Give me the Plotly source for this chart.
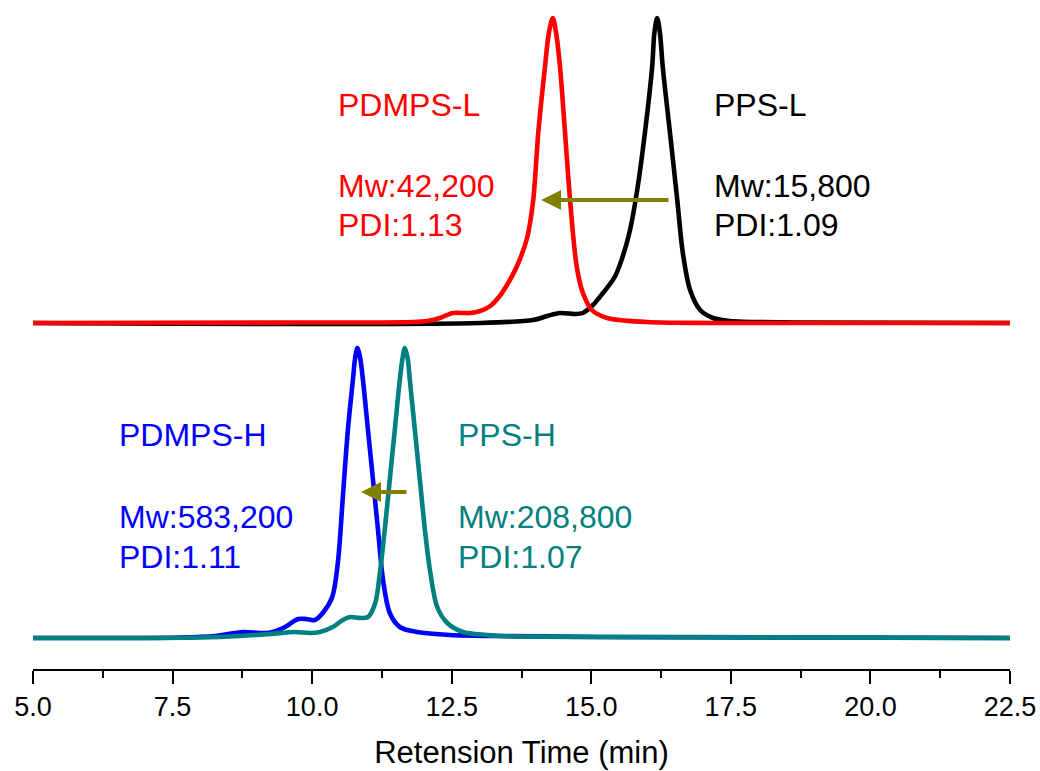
import plotly.graph_objects as go

# ---------------- data (retention time in min, detector signal in a.u.) ----------------
OFFSET_TOP = 315  # vertical offset of the upper (L) pair of chromatograms

pps_l_t = [5.0, 13.01, 13.96, 14.21, 14.44, 14.71, 14.85, 15.03, 15.21, 15.42, 15.56, 15.69,
           15.82, 15.96, 16.09, 16.13, 16.18, 16.23, 16.28, 16.41, 16.54, 16.64, 16.77, 16.95,
           17.18, 17.48, 18.74, 22.5]
pps_l_s = [0, 0, 3, 7, 10, 9, 10, 18, 30, 46, 66, 92,
           132, 190, 256, 290, 305, 290, 256, 190, 123, 70, 33, 13,
           5, 2, 0.5, 0]

pdmps_l_t = [5.0, 10.0, 11.81, 12.06, 12.29, 12.52, 12.68, 12.83, 13.01, 13.19, 13.36, 13.49,
             13.67, 13.85, 13.96, 14.05, 14.17, 14.24, 14.31, 14.37, 14.44, 14.53, 14.62, 14.74,
             14.85, 15.01, 15.28, 16.0, 17.18, 22.5]
pdmps_l_s = [0, 0.5, 1, 2, 5, 10, 10, 10, 12, 17, 27, 38,
             57, 85, 123, 190, 256, 290, 305, 290, 256, 190, 123, 56,
             30, 13, 5, 1, 0, 0]

pdmps_h_t = [5.0, 7.63, 8.26, 8.76, 9.19, 9.48, 9.75, 9.89, 10.05, 10.19, 10.36, 10.46,
             10.55, 10.64, 10.73, 10.77, 10.81, 10.86, 10.91, 11.0, 11.09, 11.18, 11.27, 11.39,
             11.57, 11.88, 12.47, 13.36, 15.16, 22.5]
pdmps_h_s = [0, 0.5, 2, 6, 5, 10, 19, 19, 18, 25, 41, 75,
             141, 208, 258, 280, 290, 280, 258, 208, 158, 108, 58, 25,
             11, 6, 3, 2, 1, 0]

pps_h_t = [5.0, 7.99, 8.71, 9.25, 9.69, 9.96, 10.14, 10.37, 10.55, 10.68, 10.86, 11.0,
           11.13, 11.22, 11.30, 11.39, 11.48, 11.57, 11.62, 11.66, 11.71, 11.75, 11.84, 11.93,
           12.02, 12.11, 12.24, 12.42, 12.70, 13.13, 13.36, 15.16, 22.5]
pps_h_s = [0, 0.5, 2, 4, 6, 5, 6, 11, 18, 21, 20, 21,
           35, 68, 108, 158, 208, 258, 280, 290, 280, 258, 208, 158,
           108, 68, 31, 15, 6, 3, 2, 1, 0]

x_ticks = [5.0, 7.5, 10.0, 12.5, 15.0, 17.5, 20.0, 22.5]
x_tick_labels = ["5.0", "7.5", "10.0", "12.5", "15.0", "17.5", "20.0", "22.5"]

# ---------------- figure ----------------
FONT = "Liberation Sans, Arial, sans-serif"
fig = go.Figure()

def add(t, s, color, name, offset=0):
    fig.add_trace(go.Scatter(
        x=t, y=[v + offset for v in s], mode="lines", name=name,
        line=dict(color=color, width=4.6, shape="spline", smoothing=0.9),
        hoverinfo="skip", showlegend=False))

add(pps_l_t, pps_l_s, "#000000", "PPS-L", OFFSET_TOP)
add(pdmps_l_t, pdmps_l_s, "#FF0000", "PDMPS-L", OFFSET_TOP)
add(pdmps_h_t, pdmps_h_s, "#0000FF", "PDMPS-H")
add(pps_h_t, pps_h_s, "#008080", "PPS-H")

labels = [
    (10.42, 533, "PDMPS-L", "#FF0000"),
    (10.42, 452, "Mw:42,200", "#FF0000"),
    (10.42, 413, "PDI:1.13", "#FF0000"),
    (17.16, 533, "PPS-L", "#000000"),
    (17.16, 452, "Mw:15,800", "#000000"),
    (17.16, 413, "PDI:1.09", "#000000"),
    (6.50, 203, "PDMPS-H", "#0000FF"),
    (6.50, 121, "Mw:583,200", "#0000FF"),
    (6.50, 81, "PDI:1.11", "#0000FF"),
    (12.575, 203, "PPS-H", "#008080"),
    (12.575, 121, "Mw:208,800", "#008080"),
    (12.575, 81, "PDI:1.07", "#008080"),
]
for x, y, txt, col in labels:
    fig.add_annotation(x=x, y=y, xref="x", yref="y", text=txt, showarrow=False,
                       xanchor="left", yanchor="middle",
                       font=dict(family=FONT, size=32, color=col))

# shift arrows
for tip_x, tail_x, yy in [(14.10, 16.41, 438), (10.875, 11.717, 146)]:
    fig.add_annotation(x=tip_x, y=yy, ax=tail_x, ay=yy, xref="x", yref="y",
                       axref="x", ayref="y", text="", showarrow=True,
                       arrowhead=2, arrowsize=1, arrowwidth=4, arrowcolor="#808000")

fig.update_xaxes(range=[5.0, 22.5], tickvals=x_ticks, ticktext=x_tick_labels,
                 showline=True, linecolor="black", linewidth=2,
                 ticks="outside", ticklen=13, tickwidth=2, tickcolor="black",
                 minor=dict(dtick=1.25, tick0=5.0, ticks="outside", ticklen=7,
                            tickwidth=2, tickcolor="black"),
                 showgrid=False, zeroline=False,
                 tickfont=dict(family=FONT, size=27, color="black"),
                 title=dict(text="Retension Time (min)", standoff=20,
                            font=dict(family=FONT, size=31, color="black")))
fig.update_yaxes(range=[-31, 638], visible=False, showgrid=False, zeroline=False)

fig.update_layout(width=1040, height=771, margin=dict(l=33, r=30, t=0, b=102, autoexpand=False),
                  plot_bgcolor="white", paper_bgcolor="white")

fig.write_html("out.html", config={"displayModeBar": False},
               post_script="document.body.style.margin='0px';")
